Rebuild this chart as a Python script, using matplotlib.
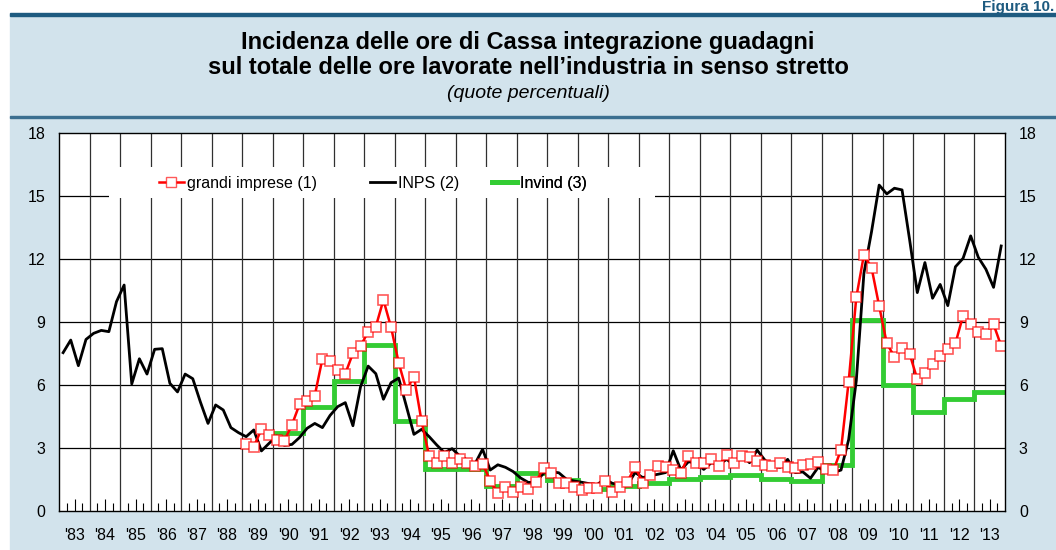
import numpy as np
import matplotlib
matplotlib.use("Agg")
import matplotlib.pyplot as plt
from matplotlib.patches import Rectangle
from matplotlib.lines import Line2D

plt.rcParams['font.family'] = ['Liberation Sans', 'DejaVu Sans']

# quarterly series: INPS from 1983Q1, large firms from 1989Q1; Invind yearly from 1990
inps = [7.54, 8.14, 6.92, 8.17,   8.46, 8.60, 8.54, 9.97,
        10.76, 6.05, 7.25, 6.52,  7.70, 7.73, 6.08, 5.67,
        6.52, 6.30, 5.19, 4.17,   5.05, 4.81, 3.97, 3.73,
        3.54, 3.86, 2.86, 3.22,   3.57, 3.13, 3.17, 3.50,
        3.94, 4.17, 3.97, 4.55,   4.97, 5.16, 4.06, 5.92,
        6.90, 6.54, 5.32, 6.11,   6.33, 5.00, 3.65, 3.89,
        3.54, 3.14, 2.78, 2.97,   2.62, 2.43, 2.24, 2.94,
        1.95, 2.20, 2.08, 1.88,   1.57, 1.36, 1.38, 1.80,
        1.87, 1.82, 1.51, 1.43,   1.37, 1.30, 1.25, 1.52,
        1.32, 1.24, 1.25, 1.83,   1.59, 1.68, 1.75, 1.83,
        2.87, 1.95, 2.35, 2.27,   1.98, 2.30, 2.22, 2.46,
        2.19, 2.67, 2.30, 2.90,   2.43, 2.14, 2.08, 2.46,
        1.83, 1.86, 1.56, 2.08,   1.87, 1.83, 1.95, 3.40,
        6.20, 11.32, 13.30, 15.52, 15.10, 15.37, 15.29, 12.90,
        10.40, 11.83, 10.13, 10.79, 9.78, 11.63, 12.03, 13.10,
        12.08, 11.51, 10.65, 12.62]

grandi = [3.19, 3.06, 3.89, 3.60,  3.38, 3.35, 4.10, 5.08,
          5.25, 5.50, 7.25, 7.14,  6.70, 6.54, 7.51, 7.85,
          8.54, 8.78, 10.05, 8.75, 7.06, 5.76, 6.40, 4.27,
          2.62, 2.28, 2.62, 2.28,  2.46, 2.28, 2.12, 2.25,
          1.45, 0.84, 1.16, 0.92,  1.16, 1.05, 1.38, 2.05,
          1.79, 1.32, 1.35, 1.16,  1.00, 1.08, 1.08, 1.45,
          0.92, 1.16, 1.40, 2.11,  1.35, 1.71, 2.16, 2.08,
          1.95, 1.82, 2.62, 2.27,  2.27, 2.46, 2.16, 2.67,
          2.27, 2.62, 2.59, 2.40,  2.19, 2.16, 2.30, 2.11,
          2.06, 2.17, 2.22, 2.31,  1.98, 1.93, 2.92, 6.16,
          10.17, 12.19, 11.59, 9.76, 7.98, 7.35, 7.75, 7.48,
          6.27, 6.56, 7.00, 7.40,  7.70, 7.98, 9.30, 8.89,
          8.54, 8.41, 8.89, 7.86]

invind = [3.70, 4.97, 6.21, 7.90, 4.30, 1.98, 1.98, 1.21, 1.79, 1.48,
          1.03, 1.19, 1.32, 1.51, 1.63, 1.71, 1.51, 1.43, 2.21, 9.10,
          6.00, 4.73, 5.32, 5.68]

series_names = ['grandi imprese (1)', 'INPS (2)', 'Invind (3)']

years = np.arange(1983, 2014)
year_labels = ["'%02d" % (y % 100) for y in years]

x_inps = 1983 + (np.arange(len(inps)) + 0.5) / 4
x_grandi = 1989 + (np.arange(len(grandi)) + 0.5) / 4
x_invind = np.arange(1990, 1990 + len(invind) + 1)
y_invind = invind + [invind[-1]]

W, H = 1056, 550
fig = plt.figure(figsize=(W / 100, H / 100), dpi=100)
fig.patch.set_facecolor('white')

light = '#D2E3EC'
dark = '#1E5B80'
green = '#33CC33'
# panel background and the two rules, kept behind the axes
fig.patches.append(Rectangle((10 / W, 0), 1 - 10 / W, 1 - 14 / H,
                             transform=fig.transFigure, color=light, zorder=-5))
fig.patches.append(Rectangle((10 / W, 1 - 16 / H), 1 - 10 / W, 3 / H,
                             transform=fig.transFigure, color=dark, zorder=-4))
fig.patches.append(Rectangle((10 / W, 1 - 118 / H), 1 - 10 / W, 2 / H,
                             transform=fig.transFigure, color='#3B6F90', zorder=-4))

fig.text(1054 / W, 1, 'Figura 10.', color=dark, fontsize=11,
         fontweight='bold', ha='right', va='top')
fig.text(0.5, 1 - 42 / H, 'Incidenza delle ore di Cassa integrazione guadagni',
         ha='center', va='center', fontsize=17, fontweight='bold')
fig.text(0.5, 1 - 67 / H, 'sul totale delle ore lavorate nell\u2019industria in senso stretto',
         ha='center', va='center', fontsize=17, fontweight='bold')
fig.text(0.5, 1 - 93 / H, '(quote percentuali)', ha='center', va='center',
         fontsize=14, fontstyle='italic')

ax = fig.add_axes([59.3 / W, 1 - 511 / H, (1005 - 59.3) / W, (511 - 133) / H])
ax.set_zorder(2)
ax.set_facecolor('white')

# grid
for yv in range(3, 18, 3):
    ax.axhline(yv, color='black', lw=0.9, zorder=1)
for yr in years[1:]:
    ax.axvline(yr, color='#303030', lw=0.9, zorder=1)

# legend backing box
ax.add_patch(Rectangle((1983 + (109 - 59.3) / 30.5, 14.9), (655 - 109) / 30.5, 1.5,
                       facecolor='white', edgecolor='none', zorder=2))

ax.plot(x_invind, y_invind, drawstyle='steps-post', color=green, lw=3.5,
        zorder=3, solid_joinstyle='miter')
ax.plot(x_inps, inps, color='black', lw=2, zorder=4)
ax.plot(x_grandi, grandi, color='red', lw=1.8, zorder=5, marker='s', markersize=6.8,
        markerfacecolor='white', markeredgecolor=(1, 0, 0, 0.65), markeredgewidth=1.2)

ax.set_xlim(1983, 2014)
ax.set_ylim(0, 18)
ax.set_yticks(range(0, 19, 3))
ax.tick_params(axis='y', length=0, labelsize=11.5, pad=10, labelright=True, right=False)

ax.set_xticks(years + 0.5, year_labels)
ax.set_xticks(np.concatenate([years + 0.25, years + 0.75]), minor=True)
ax.tick_params(axis='x', which='major', direction='in', length=9, width=0.8,
               labelsize=11.5, pad=12)
ax.tick_params(axis='x', which='minor', direction='in', length=6, width=0.8)
for s in ax.spines.values():
    s.set_linewidth(1)
    s.set_zorder(6)

# one legend per entry, each placed at its own handle start (pixels)
handles = [Line2D([], [], color='red', lw=1.8, marker='s', markersize=6.8,
                  markerfacecolor='white', markeredgecolor=(1, 0, 0, 0.65)),
           Line2D([], [], color='black', lw=2),
           Line2D([], [], color=green, lw=3.5)]
starts = [159, 370, 492]
for h, name, px in zip(handles, series_names, starts):
    leg = ax.legend([h], [name], loc='center left',
                    bbox_to_anchor=((px - 59.3) / 945.7, (511 - 183.5) / 378),
                    frameon=False, fontsize=11.5, handlelength=1.55,
                    handletextpad=0.2, borderpad=0, borderaxespad=0)
    leg.set_zorder(7)
    ax.add_artist(leg)

fig.savefig('out.png', dpi=100)
